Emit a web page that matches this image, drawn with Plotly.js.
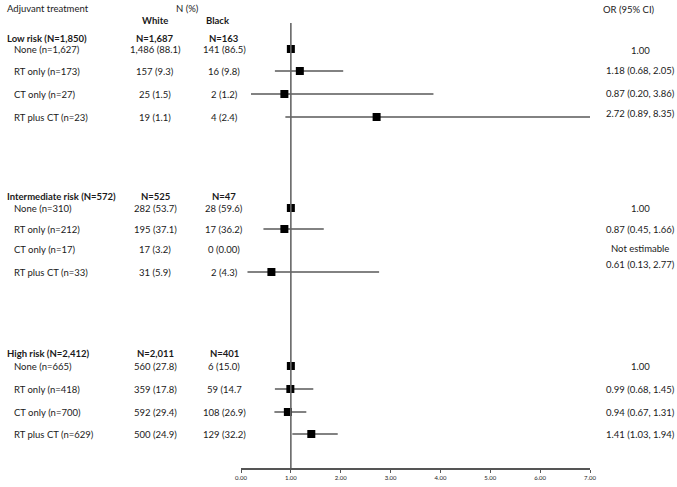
<!DOCTYPE html>
<html>
<head>
<meta charset="utf-8">
<script src="https://cdn.plot.ly/plotly-3.0.1.min.js"></script>
<style>html,body{margin:0;padding:0;background:#fff;}#chart{width:677px;height:487px;}</style>
</head>
<body>
<div id="chart"></div>
<script>
// ---------------- DATA ----------------
const groupLabels = ['Low risk (N=1,850)', 'Intermediate risk (N=572)', 'High risk (N=2,412)'];
const groupWhiteN = ['N=1,687', 'N=525', 'N=2,011'];
const groupBlackN = ['N=163', 'N=47', 'N=401'];

const lowLabels  = ['None (n=1,627)', 'RT only (n=173)', 'CT only (n=27)', 'RT plus CT (n=23)'];
const lowWhite   = ['1,486 (88.1)', '157 (9.3)', '25 (1.5)', '19 (1.1)'];
const lowBlack   = ['141 (86.5)', '16 (9.8)', '2 (1.2)', '4 (2.4)'];
const lowOR      = [1.00, 1.18, 0.87, 2.72];
const lowLo      = [null, 0.68, 0.20, 0.89];
const lowHi      = [null, 2.05, 3.86, 8.35];
const lowORText  = ['1.00', '1.18 (0.68, 2.05)', '0.87 (0.20, 3.86)', '2.72 (0.89, 8.35)'];

const intLabels  = ['None (n=310)', 'RT only (n=212)', 'CT only (n=17)', 'RT plus CT (n=33)'];
const intWhite   = ['282 (53.7)', '195 (37.1)', '17 (3.2)', '31 (5.9)'];
const intBlack   = ['28 (59.6)', '17 (36.2)', '0 (0.00)', '2 (4.3)'];
const intOR      = [1.00, 0.87, null, 0.61];
const intLo      = [null, 0.45, null, 0.13];
const intHi      = [null, 1.66, null, 2.77];
const intORText  = ['1.00', '0.87 (0.45, 1.66)', 'Not estimable', '0.61 (0.13, 2.77)'];

const highLabels = ['None (n=665)', 'RT only (n=418)', 'CT only (n=700)', 'RT plus CT (n=629)'];
const highWhite  = ['560 (27.8)', '359 (17.8)', '592 (29.4)', '500 (24.9)'];
const highBlack  = ['6 (15.0)', '59 (14.7', '108 (26.9)', '129 (32.2)'];
const highOR     = [1.00, 0.99, 0.94, 1.41];
const highLo     = [null, 0.68, 0.67, 1.03];
const highHi     = [null, 1.45, 1.31, 1.94];
const highORText = ['1.00', '0.99 (0.68, 1.45)', '0.94 (0.67, 1.31)', '1.41 (1.03, 1.94)'];

const xTickVals = [0, 1, 2, 3, 4, 5, 6, 7];
const xTickText = ['0.00', '1.00', '2.00', '3.00', '4.00', '5.00', '6.00', '7.00'];

// ---------------- LAYOUT HELPERS ----------------
const W = 677, H = 487;
const ML = 241, MR = 87, MT = 0, MB = 19;
const plotW = W - ML - MR;
const px = v => (v - ML) / plotW; // pixel x -> paper x
// vertical positions (pixel rows, y axis runs in pixel units, reversed)
const headerY = [38, 196, 353];
const rowY = [[49, 71, 94, 117], [208, 229, 249, 272], [366, 389, 412, 434]];
const orTextY = [[50, 70, 93, 113], [208, 229, 248, 264], [366, 389, 412, 434]];

const groups = [
  {labels: lowLabels, white: lowWhite, black: lowBlack, or: lowOR, lo: lowLo, hi: lowHi, ort: lowORText},
  {labels: intLabels, white: intWhite, black: intBlack, or: intOR, lo: intLo, hi: intHi, ort: intORText},
  {labels: highLabels, white: highWhite, black: highBlack, or: highOR, lo: highLo, hi: highHi, ort: highORText}
];

const FONT = 'Lato, "Open Sans", sans-serif';
const TXT = '#1a1a1a';
const FS = 9.5;
const ann = [];
function addText(text, xpix, y, anchor, bold, size) {
  ann.push({
    text: bold ? '<b>' + text + '</b>' : text,
    xref: 'paper', yref: 'y', x: px(xpix), y: y,
    xanchor: anchor, yanchor: 'middle', showarrow: false,
    font: {family: FONT, size: size || FS, color: TXT}
  });
}

const colLabel = 5, colSub = 12, colWhite = 155, colBlack = 224, colOR = 640;

addText('Adjuvant treatment', colLabel, 8, 'left', false);
addText('N (%)', 187, 8, 'center', false);
addText('OR (95% CI)', 629, 9, 'center', false);
addText('White', colWhite, 20, 'center', true);
addText('Black', 218, 20, 'center', true);

const xs = [], ys = [], ep = [], em = [];
groups.forEach((g, gi) => {
  addText(groupLabels[gi], colLabel, headerY[gi], 'left', true);
  addText(groupWhiteN[gi], colWhite, headerY[gi], 'center', true);
  addText(groupBlackN[gi], colBlack, headerY[gi], 'center', true);
  g.labels.forEach((lab, i) => {
    const y = rowY[gi][i];
    addText(lab, colSub, y, 'left', false);
    addText(g.white[i], colWhite, y, 'center', false);
    addText(g.black[i], colBlack, y, 'center', false);
    addText(g.ort[i], colOR, orTextY[gi][i], 'center', false);
    if (g.or[i] !== null) {
      xs.push(g.or[i]);
      ys.push(y);
      ep.push(g.hi[i] !== null ? g.hi[i] - g.or[i] : 0);
      em.push(g.lo[i] !== null ? g.or[i] - g.lo[i] : 0);
    }
  });
});

const trace = {
  type: 'scatter', mode: 'markers',
  x: xs, y: ys,
  marker: {symbol: 'square', size: 8, color: '#000'},
  error_x: {type: 'data', symmetric: false, array: ep, arrayminus: em,
            color: '#595959', thickness: 1.3, width: 0},
  cliponaxis: true,
  hoverinfo: 'skip'
};

const layout = {
  width: W, height: H,
  margin: {l: ML, r: MR, t: MT, b: MB, pad: 0},
  paper_bgcolor: '#fff', plot_bgcolor: '#fff',
  showlegend: false,
  xaxis: {
    range: [0, 7], tickvals: xTickVals, ticktext: xTickText,
    showgrid: false, zeroline: false,
    showline: true, linecolor: '#555', linewidth: 1.5,
    ticks: 'outside', ticklen: 3, tickcolor: '#555', tickwidth: 1,
    tickfont: {family: FONT, size: 6, color: TXT},
    fixedrange: true
  },
  yaxis: {
    range: [H - MB, 0], visible: false, showgrid: false, zeroline: false, fixedrange: true
  },
  shapes: [{
    type: 'line', xref: 'x', yref: 'y', x0: 1, x1: 1, y0: 23, y1: H - MB,
    line: {color: '#666', width: 1.6}
  }],
  annotations: ann
};

Plotly.newPlot('chart', [trace], layout, {displayModeBar: false, staticPlot: true});
</script>
</body>
</html>
